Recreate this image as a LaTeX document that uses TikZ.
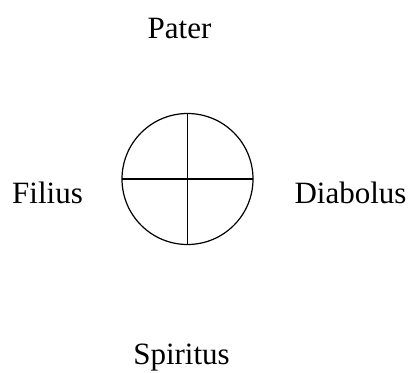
\documentclass[tikz,border=0pt]{standalone}
\usepackage{fontspec}
\setmainfont{Liberation Serif}
\begin{document}
\begin{tikzpicture}[x=1pt,y=-1pt,
  lbl/.style={anchor=base,inner sep=0pt,font=\fontsize{31}{36}\selectfont},
  wheel/.style={circle,draw,line width=1.2pt,minimum size=131pt,inner sep=0pt,outer sep=0pt}]
\useasboundingbox (0,0) rectangle (411,372);
\node[wheel] (c) at (187.5,179) {};
\draw[line width=1.2pt] (c.north) -- (c.south);
\draw[line width=1.2pt] (c.west) -- (c.east);
\node[lbl] (pater) at (179.5,38) {Pater};
\node[lbl] (filius) at (47.5,203) {Filius};
\node[lbl] (diabolus) at (350.5,203) {Diabolus};
\node[lbl] (spiritus) at (181.5,364) {Spiritus};
\end{tikzpicture}
\end{document}
